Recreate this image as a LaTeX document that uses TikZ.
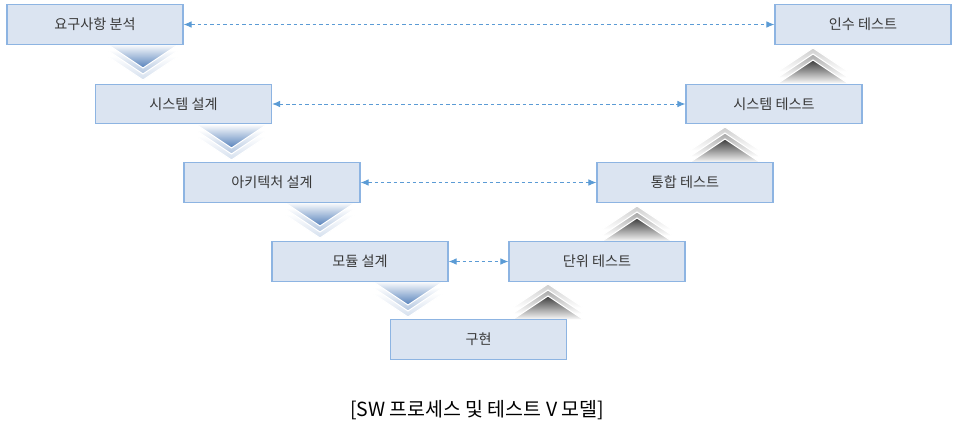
\documentclass[tikz,border=0pt]{standalone}
\definecolor{vboxfill}{RGB}{219,228,241}
\definecolor{vboxline}{RGB}{141,180,226}
\definecolor{vtext}{RGB}{56,56,56}
\definecolor{vlink}{RGB}{91,155,213}
\definecolor{vdown}{RGB}{84,128,186}
\definecolor{vup}{RGB}{60,60,60}
\usepackage{fontspec}
\setmainfont{Noto Sans CJK KR}
\usepackage{tikz}
\usetikzlibrary{arrows.meta}

\begin{document}
\begin{tikzpicture}[x=0.75pt,y=-0.75pt]

%
% Styles
%
\tikzstyle{stage}   = [rectangle,draw=vboxline,fill=vboxfill,line width=0.9pt,
                       minimum width=132pt,minimum height=29.5pt,inner sep=0pt,
                       text=vtext,font=\fontsize{10.6}{12}\selectfont]
\tikzstyle{link}    = [{Latex[length=6pt,width=5pt]}-{Latex[length=6pt,width=5pt]},
                       vlink,line width=0.7pt,dash pattern=on 2.6pt off 2.2pt]
\tikzstyle{chevron} = [draw=white,line width=0.8pt]

\useasboundingbox (0,0) rectangle (956,429);

% down chevrons (left leg)
\foreach \cx/\cy in {143/44,231.5/124,320/202,408/281} {
  \path[chevron,top color=white,bottom color=vdown!25]
    (\cx-36,\cy+12) -- (\cx+36,\cy+12) -- (\cx,\cy+36) -- cycle;
  \path[chevron,top color=white,bottom color=vdown!45]
    (\cx-36,\cy+6) -- (\cx+36,\cy+6) -- (\cx,\cy+30) -- cycle;
  \path[chevron,top color=white,bottom color=vdown]
    (\cx-36,\cy) -- (\cx+36,\cy) -- (\cx,\cy+24) -- cycle;
}

% up chevrons (right leg)
\foreach \cx/\cy in {813/84,725/163,637/242,548/320} {
  \path[chevron,top color=vup!25,bottom color=white]
    (\cx-36,\cy-12) -- (\cx+36,\cy-12) -- (\cx,\cy-36) -- cycle;
  \path[chevron,top color=vup!45,bottom color=white]
    (\cx-36,\cy-6) -- (\cx+36,\cy-6) -- (\cx,\cy-30) -- cycle;
  \path[chevron,top color=vup,bottom color=white]
    (\cx-36,\cy) -- (\cx+36,\cy) -- (\cx,\cy-24) -- cycle;
}

\node[stage] (req)    at (95,24.5)   {요구사항 분석};
\node[stage] (sysd)   at (183.5,104) {시스템 설계};
\node[stage] (arch)   at (272,182.5) {아키텍처 설계};
\node[stage] (mod)    at (360,261.5) {모듈 설계};
\node[stage] (impl)   at (478.5,339.5) {구현};
\node[stage] (unit)   at (597,261.5) {단위 테스트};
\node[stage] (integ)  at (685,182.5) {통합 테스트};
\node[stage] (syst)   at (774,104)   {시스템 테스트};
\node[stage] (accept) at (863,24.5)  {인수 테스트};

\draw[link] (req)  -- (accept);
\draw[link] (sysd) -- (syst);
\draw[link] (arch) -- (integ);
\draw[link] (mod)  -- (unit);

\node[text=black,font=\fontsize{14.6}{17}\selectfont] (caption) at (477,410)
  {[SW 프로세스 및 테스트 V 모델]};

\end{tikzpicture}
\end{document}
